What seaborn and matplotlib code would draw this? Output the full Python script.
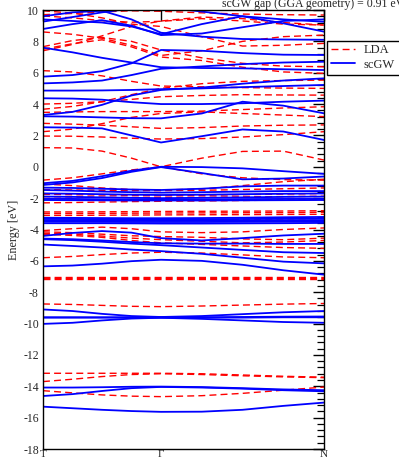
import matplotlib
matplotlib.use("Agg")
import matplotlib.pyplot as plt
import numpy as np
import pandas as pd
import seaborn as sns
from matplotlib.lines import Line2D
from matplotlib.ticker import MultipleLocator, FixedLocator

# k-path sampling (fraction of total path length) and high-symmetry points
k_path = [0.0, 0.105, 0.21, 0.315, 0.42, 0.565, 0.71, 0.855, 1.0]
k_label_pos = [0.0, 0.42, 1.0]
k_labels = ["T", "Γ", "N"]

# LDA band energies (eV) along the path
lda_bands = [
    [9.70, 9.78, 9.88, 9.95, 9.92, 9.82, 9.74, 9.70, 9.68],
    [9.62, 9.50, 9.32, 9.22, 9.28, 9.45, 9.30, 9.10, 9.04],
    [8.60, 8.45, 8.20, 7.75, 7.10, 7.40, 8.00, 8.30, 8.40],
    [9.95, 9.80, 9.50, 9.10, 8.95, 8.30, 7.70, 7.75, 7.87],
    [7.66, 8.05, 8.25, 8.00, 7.45, 6.95, 6.60, 6.42, 6.38],
    [7.50, 7.85, 8.10, 7.65, 7.00, 6.78, 6.35, 6.05, 5.96],
    [7.40, 7.80, 8.35, 8.95, 9.30, 9.55, 9.45, 9.20, 9.04],
    [6.13, 6.05, 5.80, 5.45, 5.15, 5.10, 5.05, 5.02, 5.00],
    [4.00, 4.05, 4.15, 4.30, 4.47, 4.55, 4.60, 4.58, 4.57],
    [3.67, 3.85, 4.15, 4.60, 5.00, 5.30, 5.45, 5.50, 5.53],
    [3.47, 3.50, 3.52, 3.52, 3.52, 3.55, 3.65, 3.75, 3.83],
    [2.24, 2.40, 2.75, 3.15, 3.40, 3.50, 3.40, 3.30, 3.20],
    [2.77, 2.72, 2.65, 2.55, 2.45, 2.50, 2.60, 2.65, 2.67],
    [1.96, 1.95, 1.90, 1.82, 1.77, 1.80, 1.90, 2.05, 2.24],
    [1.22, 1.20, 1.00, 0.55, 0.00, -0.45, -0.70, -0.82, -0.85],
    [-0.85, -0.70, -0.45, -0.20, 0.00, 0.55, 0.98, 1.00, 0.43],
    [-1.10, -1.20, -1.35, -1.45, -1.48, -1.42, -1.20, -0.95, -0.80],
    [-1.45, -1.48, -1.50, -1.52, -1.52, -1.50, -1.45, -1.40, -1.35],
    [-1.75, -1.78, -1.80, -1.82, -1.84, -1.82, -1.78, -1.74, -1.70],
    [-1.90, -1.92, -1.94, -1.95, -1.95, -1.94, -1.92, -1.90, -1.88],
    [-2.30, -2.28, -2.25, -2.22, -2.20, -2.18, -2.15, -2.12, -2.10],
    [-2.88, -2.88, -2.87, -2.86, -2.85, -2.84, -2.83, -2.82, -2.80],
    [-2.98, -2.98, -2.97, -2.96, -2.95, -2.94, -2.93, -2.92, -2.90],
    [-3.10, -3.10, -3.09, -3.08, -3.07, -3.06, -3.05, -3.04, -3.03],
    [-3.45, -3.44, -3.43, -3.42, -3.40, -3.38, -3.35, -3.32, -3.30],
    [-4.07, -3.95, -3.85, -3.95, -4.15, -4.20, -4.15, -4.00, -3.90],
    [-4.15, -4.20, -4.30, -4.40, -4.45, -4.50, -4.60, -4.65, -4.55],
    [-4.24, -4.30, -4.42, -4.55, -4.65, -4.75, -4.85, -4.80, -4.70],
    [-4.30, -4.38, -4.50, -4.70, -4.85, -4.95, -5.05, -5.15, -5.20],
    [-5.80, -5.72, -5.60, -5.50, -5.45, -5.50, -5.62, -5.75, -5.80],
    [-7.02, -7.02, -7.02, -7.02, -7.02, -7.02, -7.02, -7.02, -7.02],
    [-7.08, -7.08, -7.08, -7.08, -7.08, -7.08, -7.08, -7.08, -7.08],
    [-7.14, -7.14, -7.14, -7.14, -7.14, -7.14, -7.14, -7.14, -7.14],
    [-8.75, -8.78, -8.84, -8.90, -8.92, -8.88, -8.82, -8.76, -8.72],
    [-13.17, -13.17, -13.17, -13.17, -13.17, -13.20, -13.28, -13.36, -13.42],
    [-13.70, -13.55, -13.38, -13.25, -13.20, -13.25, -13.33, -13.40, -13.45],
    [-14.28, -14.42, -14.55, -14.63, -14.66, -14.60, -14.45, -14.25, -14.05],
]

# self-consistent GW band energies (eV) along the path
scgw_bands = [
    [9.60, 9.85, 9.95, 9.40, 8.55, 8.30, 8.15, 8.12, 8.10],
    [9.40, 9.30, 9.20, 8.95, 8.45, 9.10, 9.60, 9.15, 8.62],
    [8.79, 9.10, 9.35, 9.00, 8.40, 8.50, 8.90, 9.30, 9.40],
    [9.26, 9.55, 9.85, 10.10, 10.20, 9.90, 9.60, 9.40, 9.25],
    [7.60, 7.30, 6.95, 6.65, 6.35, 6.30, 6.28, 6.22, 6.17],
    [5.75, 5.85, 6.10, 6.60, 7.45, 7.40, 7.25, 7.15, 7.13],
    [5.32, 5.38, 5.50, 5.85, 6.25, 6.40, 6.55, 6.65, 6.70],
    [4.86, 4.86, 4.87, 4.90, 4.95, 5.00, 5.08, 5.15, 5.22],
    [4.37, 4.35, 4.28, 4.12, 4.00, 4.00, 4.05, 4.15, 4.22],
    [3.30, 3.50, 3.95, 4.55, 4.90, 5.05, 5.30, 5.50, 5.64],
    [3.22, 3.20, 3.15, 3.10, 3.09, 3.40, 4.15, 3.90, 3.41],
    [2.52, 2.50, 2.45, 2.00, 1.55, 1.95, 2.38, 2.25, 1.71],
    [-1.05, -0.90, -0.60, -0.25, 0.00, -0.02, -0.10, -0.28, -0.45],
    [-1.16, -1.00, -0.72, -0.32, -0.02, -0.40, -0.80, -0.75, -0.62],
    [-1.33, -1.35, -1.40, -1.45, -1.48, -1.40, -1.25, -1.20, -1.20],
    [-1.48, -1.52, -1.58, -1.62, -1.65, -1.62, -1.58, -1.55, -1.55],
    [-1.70, -1.72, -1.75, -1.78, -1.80, -1.78, -1.75, -1.72, -1.70],
    [-1.90, -1.92, -1.95, -1.98, -2.00, -1.98, -1.95, -1.92, -1.90],
    [-2.05, -2.05, -2.07, -2.08, -2.08, -2.08, -2.06, -2.05, -2.05],
    [-2.12, -2.13, -2.14, -2.15, -2.15, -2.15, -2.14, -2.13, -2.12],
    [-3.25, -3.26, -3.27, -3.28, -3.28, -3.27, -3.25, -3.22, -3.20],
    [-3.32, -3.33, -3.34, -3.35, -3.36, -3.35, -3.33, -3.32, -3.30],
    [-3.40, -3.41, -3.42, -3.43, -3.44, -3.43, -3.42, -3.41, -3.40],
    [-3.50, -3.50, -3.51, -3.52, -3.52, -3.52, -3.51, -3.50, -3.50],
    [-3.60, -3.60, -3.60, -3.61, -3.62, -3.62, -3.61, -3.60, -3.58],
    [-4.41, -4.22, -4.10, -4.20, -4.55, -4.70, -4.55, -4.38, -4.27],
    [-4.58, -4.62, -4.70, -4.80, -4.88, -4.90, -4.90, -4.92, -4.92],
    [-4.62, -4.68, -4.78, -4.90, -5.00, -5.15, -5.30, -5.45, -5.50],
    [-4.96, -5.05, -5.15, -5.28, -5.38, -5.55, -5.80, -6.05, -6.16],
    [-6.35, -6.30, -6.18, -6.02, -5.93, -6.00, -6.25, -6.60, -6.88],
    [-9.10, -9.20, -9.38, -9.52, -9.58, -9.52, -9.40, -9.28, -9.20],
    [-9.60, -9.60, -9.60, -9.60, -9.60, -9.60, -9.58, -9.56, -9.55],
    [-9.62, -9.62, -9.62, -9.62, -9.62, -9.62, -9.62, -9.60, -9.60],
    [-10.02, -9.95, -9.80, -9.68, -9.63, -9.70, -9.80, -9.90, -9.95],
    [-14.08, -14.08, -14.06, -14.03, -14.02, -14.05, -14.12, -14.20, -14.25],
    [-14.62, -14.50, -14.30, -14.12, -14.04, -14.08, -14.15, -14.25, -14.32],
    [-15.30, -15.40, -15.50, -15.58, -15.63, -15.62, -15.50, -15.25, -15.04],
]

title_text = "scGW gap (GGA geometry) = 0.91 eV"


def bands_to_frame(bands, method):
    rows = []
    for b, energies in enumerate(bands):
        for k, e in zip(k_path, energies):
            rows.append({"k": k, "E": e, "band": f"{method}{b}", "method": method})
    return pd.DataFrame(rows)


df_lda = bands_to_frame(lda_bands, "LDA")
df_gw = bands_to_frame(scgw_bands, "scGW")

sns.set_style("white")
plt.rcParams["font.family"] = ["Liberation Serif", "DejaVu Serif"]
plt.rcParams["axes.unicode_minus"] = False
plt.rcParams["lines.scale_dashes"] = False

fig = plt.figure(figsize=(3.99, 4.62), dpi=100)
ax = fig.add_axes([43 / 399, 1 - 449 / 462, (324 - 43) / 399, (449 - 10) / 462])

sns.lineplot(data=df_lda, x="k", y="E", units="band", estimator=None, sort=False,
             color="#ff0000", linewidth=1.0, dashes=False, ax=ax, legend=False)
for line in ax.get_lines():
    line.set_dashes((5, 3))
sns.lineplot(data=df_gw, x="k", y="E", units="band", estimator=None, sort=False,
             color="#0000ff", linewidth=1.3, ax=ax, legend=False)

ax.set_xlim(0, 1)
ax.set_ylim(-18, 10)
ax.xaxis.set_major_locator(FixedLocator(k_label_pos))
ax.set_xticklabels(k_labels)
ax.yaxis.set_major_locator(MultipleLocator(2))
ax.yaxis.set_minor_locator(MultipleLocator(0.4))
ax.tick_params(axis="both", which="both", direction="in", top=True, right=True,
               color="black")
ax.tick_params(axis="both", which="major", length=8, width=1.0)
ax.tick_params(axis="y", which="minor", length=5, width=0.9)
ax.tick_params(axis="y", which="major", pad=3, labelsize=8.5)
ax.tick_params(axis="x", which="major", pad=0.5, labelsize=8)
for s in ax.spines.values():
    s.set_linewidth(1.0)
    s.set_color("black")
ax.set_xlabel("")
ax.set_ylabel("Energy [eV]", fontsize=8.7, labelpad=2.5)

handles = [Line2D([0], [0], color="#ff0000", lw=1.0, dashes=(5, 3)),
           Line2D([0], [0], color="#0000ff", lw=1.3)]
leg = fig.legend(handles, ["LDA", "scGW"], loc="upper left",
                 bbox_to_anchor=(327 / 399, 1 - 41 / 462, 0.25, 0.001), mode="expand",
                 fontsize=9, frameon=True, fancybox=False, framealpha=1,
                 edgecolor="black", borderpad=0.3, labelspacing=0.2,
                 handlelength=1.9, handletextpad=0.7, borderaxespad=0)
leg.get_frame().set_linewidth(1.0)

fig.text(222 / 399, 1 - 6.5 / 462, title_text, fontsize=8.5, ha="left", va="baseline")

fig.savefig("out.png", dpi=100)
